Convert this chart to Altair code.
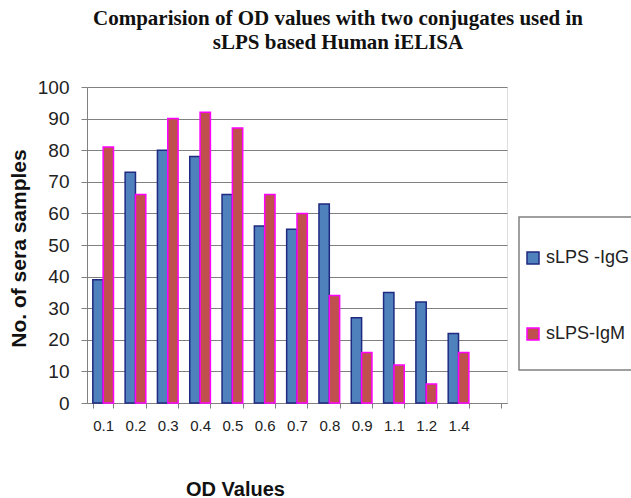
import altair as alt
import pandas as pd

od_values = ["0.1", "0.2", "0.3", "0.4", "0.5", "0.6", "0.7", "0.8", "0.9", "1.1", "1.2", "1.4"]
igg_counts = [39, 73, 80, 78, 66, 56, 55, 63, 27, 35, 32, 22]
igm_counts = [81, 66, 90, 92, 87, 66, 60, 34, 16, 12, 6, 16]
series_names = ["sLPS -IgG", "sLPS-IgM"]

# an empty slot at the right end of the category axis
x_domain = od_values + [" "]

rows = []
for od, g, m in zip(od_values, igg_counts, igm_counts):
    rows.append({"od": od, "series": series_names[0], "count": g})
    rows.append({"od": od, "series": series_names[1], "count": m})
df = pd.DataFrame(rows)

SANS = "Liberation Sans"
SERIF = "Liberation Serif"

fill_scale = alt.Scale(domain=series_names, range=["#4F81BD", "#C0504D"])
stroke_scale = alt.Scale(domain=series_names, range=["#1F2A80", "#FF00FF"])

bars = alt.Chart(df).mark_bar(strokeWidth=1.5).encode(
    x=alt.X("od:N", scale=alt.Scale(domain=x_domain, paddingInner=0.36, paddingOuter=0.18),
            axis=alt.Axis(title="OD Values", labelAngle=0, labelFont=SANS, labelFontSize=15,
                          labelColor="#222222", labelPadding=10, tickBand="extent",
                          tickColor="#808080", tickSize=5, domainColor="#808080",
                          titleFont=SANS, titleFontSize=20, titleFontWeight="bold",
                          titleColor="#111111", titleX=148, titleY=76)),
    xOffset=alt.XOffset("series:N", scale=alt.Scale(domain=series_names, paddingInner=0, paddingOuter=0)),
    y=alt.Y("count:Q", scale=alt.Scale(domain=[0, 100], nice=False),
            axis=alt.Axis(title="No. of sera samples", values=list(range(0, 101, 10)),
                          labelFont=SANS, labelFontSize=19, labelColor="#222222",
                          labelPadding=12, tickColor="#808080", tickSize=6,
                          domainColor="#808080", gridColor="#808080", gridWidth=1,
                          titleFont=SANS, titleFontSize=21, titleFontWeight="bold",
                          titleColor="#111111", titleX=-68, titleY=161, titleAngle=-90,
                          titleBaseline="middle", titleAlign="center")),
    fill=alt.Fill("series:N", scale=fill_scale,
                  legend=alt.Legend(title=None, orient="none", legendX=437, legendY=162,
                                    labelFont=SANS, labelFontSize=18, labelColor="#222222",
                                    symbolType="square", symbolSize=144, symbolStrokeWidth=1.5,
                                    rowPadding=58, labelOffset=4)),
    stroke=alt.Stroke("series:N", scale=stroke_scale, legend=None),
)

# frame around the legend
legend_box = alt.Chart(pd.DataFrame({"k": [0]})).mark_rect(
    fill=None, stroke="#808080", strokeWidth=1.5, clip=False
).encode(
    x=alt.value(432), x2=alt.value(570), y=alt.value(130), y2=alt.value(283)
)

chart = alt.layer(bars, legend_box).properties(
    width=420,
    height=316,
    autosize=alt.AutoSizeParams(type="none"),
    padding={"left": 87, "top": 87, "right": 124, "bottom": 95},
    title=alt.Title(
        ["Comparision of OD values with two conjugates used in", "sLPS based Human iELISA"],
        font=SERIF, fontSize=21, fontWeight="bold", color="#111111",
        anchor="middle", dx=41, offset=25, lineHeight=24,
    ),
).configure_view(stroke=None).configure(background="#FFFFFF")

chart.save("out.html", embed_options={"renderer": "svg", "actions": False})
